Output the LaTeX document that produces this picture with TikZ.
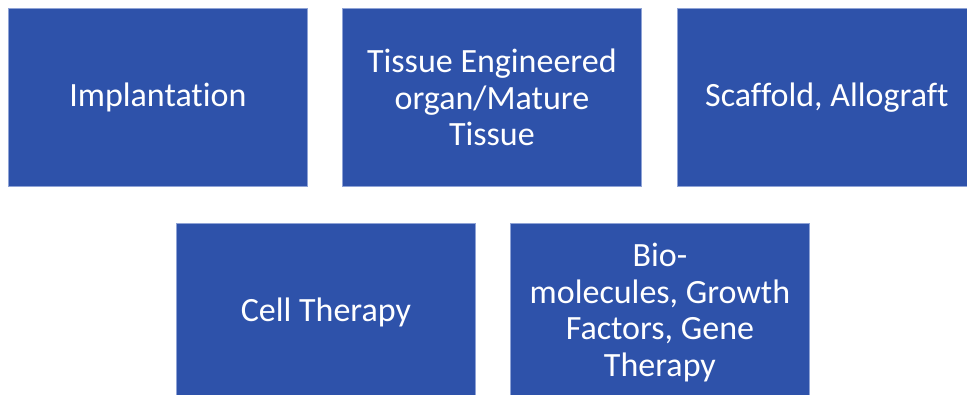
\documentclass[tikz,border=0pt]{standalone}
\usepackage{fontspec}
\setmainfont[Ligatures=NoCommon]{Carlito}
\definecolor{boxblue}{HTML}{2E52AA}
\definecolor{edgeblue}{HTML}{8FA3D6}
\begin{document}
\begin{tikzpicture}[x=1pt, y=-1pt,
    card/.style={draw=edgeblue, line width=0.8pt, fill=boxblue, text=white,
        minimum width=299pt, minimum height=178pt, inner sep=0pt,
        anchor=north west, align=center,
        font=\fontsize{34}{36.5}\selectfont}]
    % 画布大小
    \clip (0,0) rectangle (967,395);
    \useasboundingbox (0,0) rectangle (967,395);
    % 上排
    \node[card] (impl) at (8,8) {Implantation};
    \node[card] (tissue) at (342,8) {Tissue Engineered\\organ/Mature\\Tissue};
    \node[card] (scaff) at (677,8) {Scaffold, Allograft};
    % 下排
    \node[card] (cell) at (176,223) {Cell Therapy};
    \node[card] (biomol) at (510,223) {Bio-\\molecules, Growth\\Factors, Gene\\Therapy};
\end{tikzpicture}
\end{document}
